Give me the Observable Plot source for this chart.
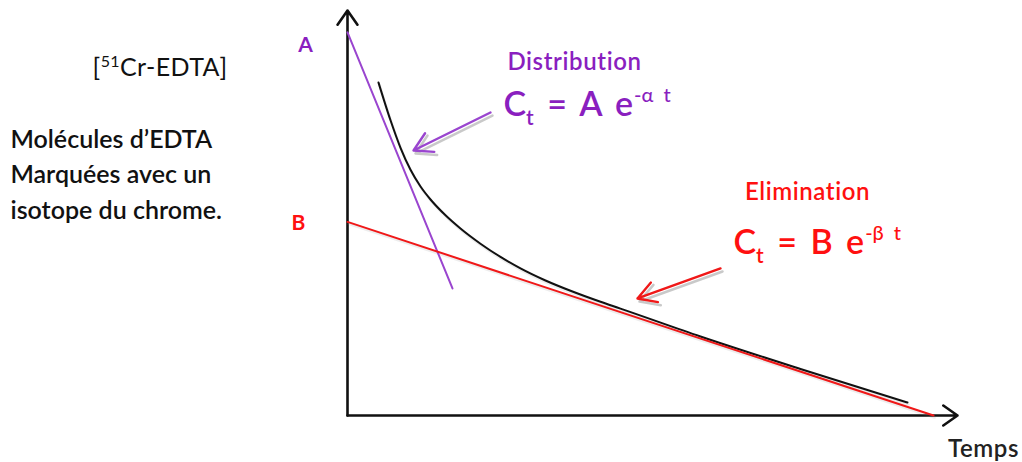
<!DOCTYPE html>
<html>
<head>
<meta charset="utf-8">
<script src="https://cdn.jsdelivr.net/npm/d3@7"></script>
<script src="https://cdn.jsdelivr.net/npm/@observablehq/plot@0.6"></script>
<style>
  html, body { margin: 0; padding: 0; background: #fff; }
</style>
</head>
<body>
<div id="chart"></div>
<script>
// ---- data (time t, log concentration c) ----
const curveT = [0.508, 0.705, 0.869, 1.033, 1.197, 1.361, 1.607, 1.852, 2.180, 2.508, 2.836, 3.246, 3.656, 4.148, 4.475, 5.787, 7.426, 9.180];
const curveC = [8.222, 7.289, 6.610, 6.067, 5.654, 5.333, 4.943, 4.617, 4.242, 3.916, 3.632, 3.333, 3.079, 2.807, 2.640, 1.951, 1.148, 0.321];

const distT = [0, 1.721];      // distribution line (A e^-αt)
const distC = [9.46, 3.136];
const elimT = [0, 9.607];      // elimination line (B e^-βt)
const elimC = [4.78, 0];

const axisArrows = [
  {t1: 0, c1: 0, t2: 0, c2: 10},
  {t1: 0, c1: 0, t2: 10, c2: 0}
];
const pointerArrows = [
  {t1: 2.344, c1: 7.481, t2: 1.082, c2: 6.543, color: "#9a45cf"},
  {t1: 6.115, c1: 3.630, t2: 4.754, c2: 2.889, color: "#f01818"}
];

const letterLabels = [
  {text: "A", t: -0.689, c: 8.963, color: "#8a1fbf"},
  {text: "B", t: -0.803, c: 4.568, color: "#ff1010"}
];
const phaseLabels = [
  {text: "Distribution", t: 3.721, c: 8.543, color: "#8a1fbf"},
  {text: "Elimination", t: 7.541, c: 5.309, color: "#ff1010"}
];
const formulas = [
  {lead: "C", sub: "t", mid: " = A e", sup: "-α t", t: 2.557, c: 7.407, color: "#8a1fbf"},
  {lead: "C", sub: "t", mid: " = B e", sup: "-β t", t: 6.328, c: 4.0, color: "#ff1010"}
];
const titleLabel = [{pre: "[", sup: "51", post: "Cr-EDTA]", t: -1.967, c: 8.395}];
const descLabel = [{text: "Molécules d’EDTA\nMarquées avec un\nisotope du chrome.", t: -5.525, c: 4.864}];
const axisLabel = [{text: "Temps", t: 10.426, c: -1.037}];

const curve = curveT.map((t, i) => ({t, c: curveC[i]}));
const dist = distT.map((t, i) => ({t, c: distC[i]}));
const elim = elimT.map((t, i) => ({t, c: elimC[i]}));

const svg = Plot.plot({
  width: 1022,
  height: 462,
  marginTop: 10,
  marginRight: 65,
  marginBottom: 47,
  marginLeft: 347,
  style: {background: "#fff", fontFamily: "Lato, 'Open Sans', sans-serif", overflow: "visible"},
  x: {domain: [0, 10], axis: null},
  y: {domain: [0, 10], axis: null},
  marks: [
    // axes
    Plot.arrow(axisArrows, {x1: "t1", y1: "c1", x2: "t2", y2: "c2", stroke: "#111", strokeWidth: 2.6, headLength: 10, headAngle: 70}),
    // shadows
    Plot.line(curve, {x: "t", y: "c", curve: "monotone-x", stroke: "#888", strokeOpacity: 0.15, strokeWidth: 2.5, dx: 1, dy: 2}),
    Plot.line(elim, {x: "t", y: "c", stroke: "#888", strokeOpacity: 0.15, strokeWidth: 2.5, dx: 1, dy: 2}),
    Plot.arrow(pointerArrows, {x1: "t1", y1: "c1", x2: "t2", y2: "c2", stroke: "#777", strokeOpacity: 0.4, strokeWidth: 2.5, headLength: 13, headAngle: 60, dx: 2, dy: 3}),
    // lines
    Plot.line(dist, {x: "t", y: "c", stroke: "#9a45cf", strokeWidth: 2}),
    Plot.line(curve, {x: "t", y: "c", curve: "monotone-x", stroke: "#111", strokeWidth: 2}),
    Plot.line(elim, {x: "t", y: "c", stroke: "#f01818", strokeWidth: 2}),
    Plot.arrow(pointerArrows, {x1: "t1", y1: "c1", x2: "t2", y2: "c2", stroke: "color", strokeWidth: 2.4, headLength: 13, headAngle: 60}),
    // labels
    Plot.text(letterLabels, {x: "t", y: "c", text: "text", fill: "color", fontSize: 21, fontWeight: "bold", lineAnchor: "bottom", textAnchor: "middle"}),
    Plot.text(phaseLabels, {x: "t", y: "c", text: "text", fill: "color", fontSize: 24, fontWeight: 600, lineAnchor: "bottom", textAnchor: "middle"}),
    Plot.text(formulas, {x: "t", y: "c", text: d => d.lead + d.sub + d.mid + d.sup, fill: "color", fontSize: 34, fontWeight: 600, lineAnchor: "bottom", textAnchor: "start"}),
    Plot.text(titleLabel, {x: "t", y: "c", text: d => d.pre + d.sup + d.post, fill: "#111", fontSize: 25, lineAnchor: "bottom", textAnchor: "end"}),
    Plot.text(descLabel, {x: "t", y: "c", text: "text", fill: "#111", fontSize: 25, fontWeight: 600, lineHeight: 1.42, lineAnchor: "bottom", textAnchor: "start"}),
    Plot.text(axisLabel, {x: "t", y: "c", text: "text", fill: "#222", fontSize: 24, fontWeight: 600, lineAnchor: "bottom", textAnchor: "middle"})
  ]
});

// rich text: sub/superscripts and spacing
d3.select(svg).selectAll("text").each(function () {
  const s = d3.select(this);
  const txt = this.textContent;
  if (phaseLabels.some(l => l.text === txt) || axisLabel.some(l => l.text === txt)) {
    s.style("letter-spacing", "0.6px");
    return;
  }
  const f = formulas.find(f => f.lead + f.sub + f.mid + f.sup === txt);
  if (f) {
    s.text(null).style("word-spacing", "5px");
    s.append("tspan").text(f.lead);
    s.append("tspan").attr("font-size", "21").attr("dy", "9").text(f.sub);
    s.append("tspan").attr("dy", "-9").text(f.mid);
    s.append("tspan").attr("font-size", "20").attr("font-weight", "500").attr("dy", "-14").attr("dx", "1").style("word-spacing", "5px").text(f.sup);
    return;
  }
  const tl = titleLabel.find(l => l.pre + l.sup + l.post === txt);
  if (tl) {
    s.text(null).style("letter-spacing", "0.4px");
    s.append("tspan").text(tl.pre);
    s.append("tspan").attr("font-size", "16").attr("dy", "-9").text(tl.sup);
    s.append("tspan").attr("dy", "9").text(tl.post);
  }
});

document.getElementById("chart").appendChild(svg);
</script>
</body>
</html>
